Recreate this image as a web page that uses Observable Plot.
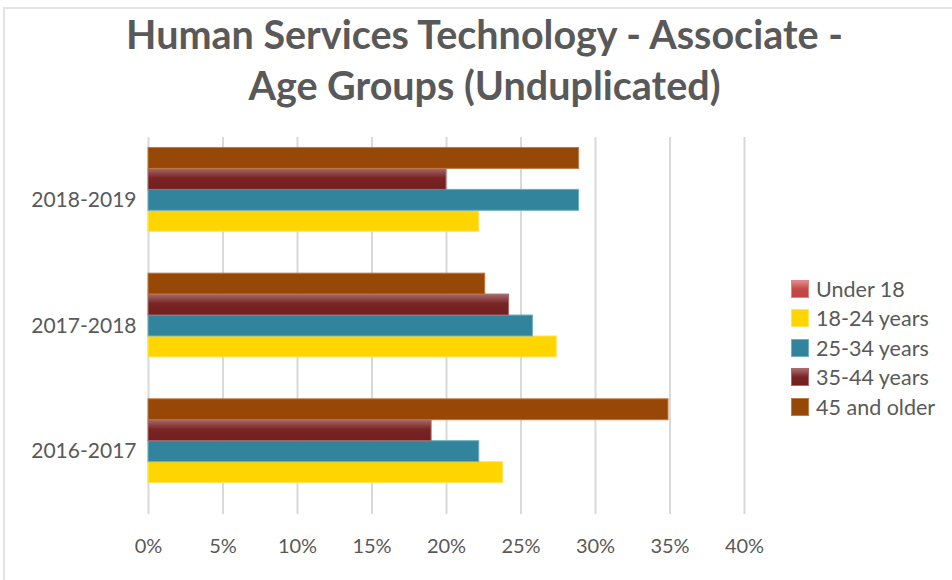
<!DOCTYPE html>
<html>
<head>
<meta charset="utf-8">
<script src="https://cdn.jsdelivr.net/npm/d3@7"></script>
<script src="https://cdn.jsdelivr.net/npm/@observablehq/plot@0.6"></script>
<style>
  html, body { margin: 0; padding: 0; background: #fff; }
  #wrap { position: relative; width: 952px; height: 580px; overflow: hidden; font-family: Lato, "Open Sans", sans-serif; }
  #frame { position: absolute; left: 3px; top: 7px; width: 1000px; height: 700px; border-top: 2px solid #e3e3e3; border-left: 2px solid #e3e3e3; }
  #title { position: absolute; left: 0; top: 8px; width: 969px; text-align: center; font-weight: 700; font-size: 39.5px; line-height: 51px; color: #595959; }
  #chart { position: absolute; left: 0; top: 125px; }
  #legend { position: absolute; left: 791px; top: 280px; }
  .item { height: 29.4px; position: relative; }
  .sw { position: absolute; left: 0; top: 0; width: 18px; height: 18px; box-sizing: border-box; }
  .lab { position: absolute; left: 25px; top: -4px; font-size: 21.5px; color: #595959; line-height: 26px; white-space: nowrap; }
  #chart g[aria-label="y-axis tick label"] { font-size: 21px; }
</style>
</head>
<body>
<div id="wrap">
  <div id="frame"></div>
  <div id="title">Human Services Technology - Associate -<br>Age Groups (Unduplicated)</div>
  <div id="chart"></div>
  <div id="legend"></div>
</div>
<script>
// ---- data (percent of students) ----
const years = ["2018-2019", "2017-2018", "2016-2017"]; // top to bottom
const seriesNames = ["Under 18", "18-24 years", "25-34 years", "35-44 years", "45 and older"];
const under18   = [0, 0, 0];
const age18_24  = [22.2, 27.4, 23.8];
const age25_34  = [28.9, 25.8, 22.2];
const age35_44  = [20.0, 24.2, 19.0];
const age45plus = [28.9, 22.6, 34.9];
const xTicks = [0, 5, 10, 15, 20, 25, 30, 35, 40];

const seriesValues = {
  "Under 18": under18,
  "18-24 years": age18_24,
  "25-34 years": age25_34,
  "35-44 years": age35_44,
  "45 and older": age45plus
};
const seriesFill = {
  "Under 18": "url(#gUnder18)",
  "18-24 years": "#FFD500",
  "25-34 years": "#31849B",
  "35-44 years": "url(#g3544)",
  "45 and older": "#974706"
};
const seriesStroke = {
  "Under 18": "#d88",
  "18-24 years": "#FFE45C",
  "25-34 years": "#6fb0c2",
  "35-44 years": "#a86a6a",
  "45 and older": "#c07a45"
};

// bar order inside a group, top to bottom
const stackOrder = ["45 and older", "35-44 years", "25-34 years", "18-24 years", "Under 18"];
const key = (y, s) => y + "|" + s;
const domain = [];
years.forEach((y, i) => {
  stackOrder.forEach(s => domain.push(key(y, s)));
  if (i < years.length - 1) domain.push("gap" + i);
});
const rows = [];
years.forEach((y, i) => seriesNames.forEach(s => rows.push({year: y, series: s, key: key(y, s), value: seriesValues[s][i]})));
const tickKeys = years.map(y => key(y, "25-34 years"));

const chart = Plot.plot({
  width: 952,
  height: 455,
  marginLeft: 148,
  marginRight: 208,
  marginTop: 12,
  marginBottom: 66,
  style: {fontFamily: "Lato, 'Open Sans', sans-serif", fontSize: "20px", color: "#595959", background: "transparent", overflow: "visible"},
  x: {domain: [0, 40], ticks: xTicks, tickFormat: d => d + "%", tickSize: 0, tickPadding: 24, label: null},
  y: {type: "band", domain, paddingInner: 0, paddingOuter: 0.5, round: false, ticks: tickKeys, tickFormat: k => k.split("|")[0], tickSize: 0, tickPadding: 12, label: null},
  color: {type: "identity"},
  marks: [
    Plot.ruleX(xTicks, {stroke: "#d9d9d9", strokeWidth: 2}),
    Plot.barX(rows.filter(d => d.value > 0), {
      x: "value", y: "key",
      fill: d => seriesFill[d.series],
      stroke: d => seriesStroke[d.series],
      strokeWidth: 1
    })
  ]
});

// gradients
const ns = "http://www.w3.org/2000/svg";
const defs = document.createElementNS(ns, "defs");
defs.innerHTML = `
  <linearGradient id="g3544" x1="0" y1="0" x2="0" y2="1">
    <stop offset="0" stop-color="#a46a6a"/>
    <stop offset="0.45" stop-color="#7a2424"/>
    <stop offset="1" stop-color="#721f1f"/>
  </linearGradient>
  <linearGradient id="gUnder18" x1="0" y1="0" x2="0" y2="1">
    <stop offset="0" stop-color="#dd7a78"/>
    <stop offset="0.45" stop-color="#c34a47"/>
    <stop offset="1" stop-color="#bf4542"/>
  </linearGradient>`;
chart.insertBefore(defs, chart.firstChild);
document.getElementById("chart").appendChild(chart);

// legend
const legend = document.getElementById("legend");
const legendCss = {
  "Under 18": "linear-gradient(#e08a88, #c34a47 50%, #bf4542)",
  "18-24 years": "#FFD500",
  "25-34 years": "#31849B",
  "35-44 years": "linear-gradient(#a46a6a, #7a2424 50%, #721f1f)",
  "45 and older": "#974706"
};
seriesNames.forEach(s => {
  const item = document.createElement("div");
  item.className = "item";
  const sw = document.createElement("div");
  sw.className = "sw";
  sw.style.background = legendCss[s];
  sw.style.border = "1px solid " + seriesStroke[s];
  const lab = document.createElement("div");
  lab.className = "lab";
  lab.textContent = s;
  item.appendChild(sw);
  item.appendChild(lab);
  legend.appendChild(item);
});
</script>
</body>
</html>
